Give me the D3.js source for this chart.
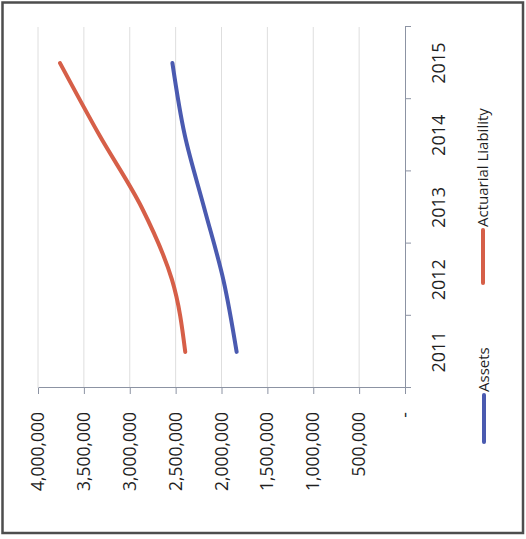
<!DOCTYPE html>
<html>
<head>
<meta charset="utf-8">
<script src="https://cdn.jsdelivr.net/npm/d3@7"></script>
<style>
  html, body { margin: 0; padding: 0; background: #ffffff; }
  svg { display: block; }
  text { font-family: "Open Sans", "Liberation Sans", sans-serif; fill: #1f1f1f; }
</style>
</head>
<body>
<svg id="chart" width="526" height="539"></svg>
<script>
// Pension funding: plan assets vs. actuarial liability by year
const years = ["2011", "2012", "2013", "2014", "2015"];
const assets = [1835000, 1980000, 2190000, 2400000, 2535000];
const liability = [2395000, 2540000, 2870000, 3330000, 3760000];
const valueTicks = [0, 500000, 1000000, 1500000, 2000000, 2500000, 3000000, 3500000, 4000000];
const seriesNames = ["Assets", "Actuarial Liability"];
const seriesColors = ["#4a5ab0", "#d65f48"];

const W = 526, H = 539;
const svg = d3.select("#chart");

// outer frame
svg.append("rect")
  .attr("x", 2.5).attr("y", 2.5)
  .attr("width", 520.5).attr("height", 530.5)
  .attr("fill", "#fff")
  .attr("stroke", "#4d4d4d")
  .attr("stroke-width", 2.5);

// The chart is laid out as an ordinary year/value chart and turned a quarter
// turn counter-clockwise, so years run bottom-to-top and values right-to-left.
const g = svg.append("g").attr("transform", `translate(0,${H}) rotate(-90)`);

const plotLeft = 151, plotRight = 512;   // along the year direction
const axisPos = 405, topPos = 38;        // along the value direction

const x = d3.scaleBand().domain(years).range([plotLeft, plotRight]).padding(0);
const xEdges = d3.scaleLinear().domain([0, years.length]).range([plotLeft, plotRight]);
const y = d3.scaleLinear().domain([0, 4000000]).range([axisPos, topPos]);

// gridlines
g.append("g").selectAll("line")
  .data(valueTicks.filter(d => d > 0))
  .join("line")
  .attr("x1", plotLeft).attr("x2", plotRight)
  .attr("y1", d => y(d)).attr("y2", d => y(d))
  .attr("stroke", "#dedede").attr("stroke-width", 1);

// value axis
const fmt = d3.format(",");
const yAxis = g.append("g")
  .attr("transform", `translate(${plotLeft},0)`)
  .call(d3.axisLeft(y)
    .tickValues(valueTicks)
    .tickSize(6).tickSizeOuter(0).tickPadding(18)
    .tickFormat(d => d === 0 ? "-" : fmt(d)));
yAxis.select(".domain").attr("stroke", "#8c93a3");
yAxis.selectAll(".tick line").attr("stroke", "#8c93a3");
yAxis.selectAll("text").attr("font-size", 17.5).attr("fill", "#1f1f1f");

// category axis: ticks on the band edges, labels on the band centres
const xTicks = g.append("g")
  .attr("transform", `translate(0,${axisPos})`)
  .call(d3.axisBottom(xEdges).ticks(years.length).tickSize(6).tickSizeOuter(0).tickFormat(""));
xTicks.select(".domain").attr("stroke", "#8c93a3");
xTicks.selectAll(".tick line").attr("stroke", "#8c93a3");

const xLabels = g.append("g")
  .attr("transform", `translate(0,${axisPos})`)
  .call(d3.axisBottom(x).tickSize(0).tickPadding(27));
xLabels.select(".domain").remove();
xLabels.selectAll("text").attr("font-size", 18).attr("fill", "#1f1f1f");

// series lines (smoothed)
const line = d3.line()
  .x((d, i) => x(years[i]) + x.bandwidth() / 2)
  .y(d => y(d))
  .curve(d3.curveMonotoneX);

[assets, liability].forEach((vals, k) => {
  g.append("path")
    .datum(vals)
    .attr("d", line)
    .attr("fill", "none")
    .attr("stroke", seriesColors[k])
    .attr("stroke-width", 4)
    .attr("stroke-linecap", "round")
    .attr("stroke-linejoin", "round");
});

// legend
const legendItems = [
  { name: seriesNames[0], color: seriesColors[0], u0: 97, u1: 144, v: 484 },
  { name: seriesNames[1], color: seriesColors[1], u0: 256, u1: 309, v: 483 }
];
const lg = g.append("g");
legendItems.forEach(it => {
  lg.append("line")
    .attr("x1", it.u0).attr("x2", it.u1)
    .attr("y1", it.v).attr("y2", it.v)
    .attr("stroke", it.color).attr("stroke-width", 4)
    .attr("stroke-linecap", "round");
  lg.append("text")
    .attr("x", it.u1 + 3).attr("y", it.v)
    .attr("dy", "0.35em")
    .attr("font-size", 15)
    .text(it.name);
});
</script>
</body>
</html>
